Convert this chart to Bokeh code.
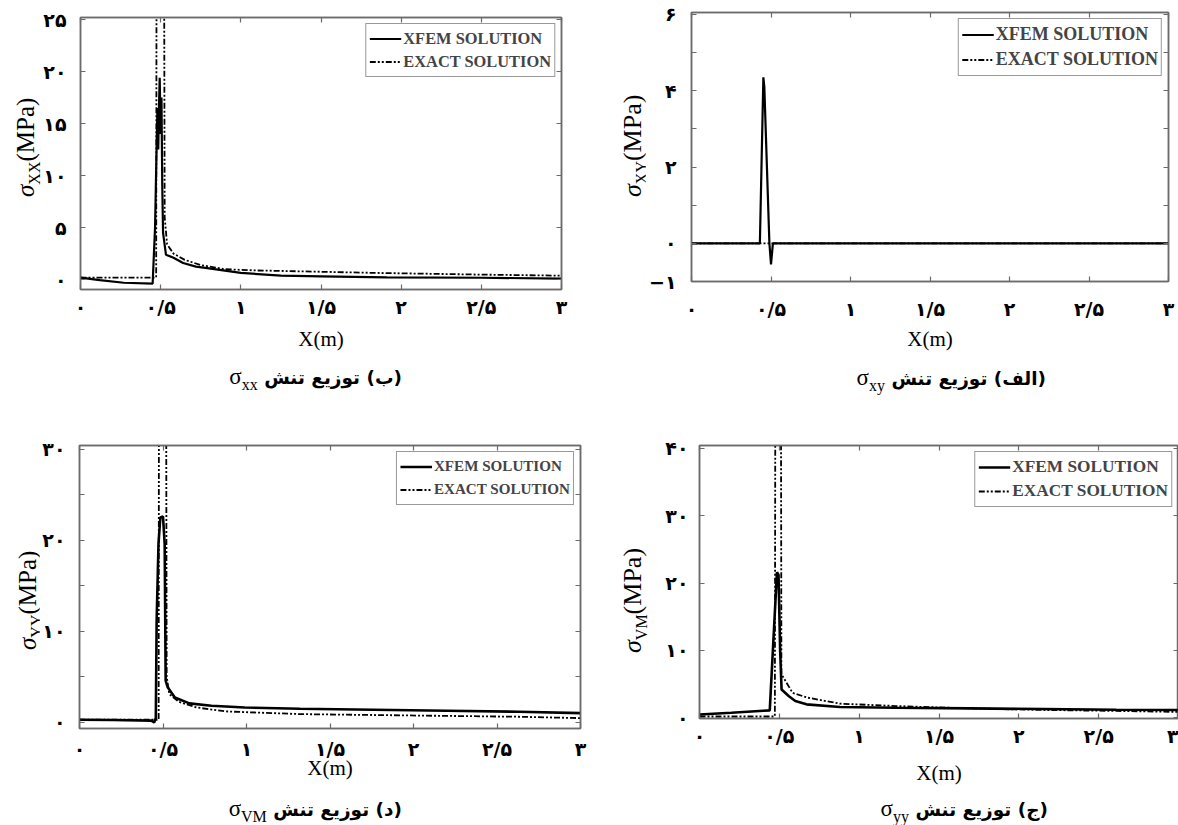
from bokeh.plotting import figure
from bokeh.models import Range1d, LinearAxis, FixedTicker, Legend, LegendItem, Div
from bokeh.layouts import column, row
from bokeh.embed import file_html
from bokeh.resources import INLINE

# ---------------- data ----------------
X_TICKS = [0, 0.5, 1, 1.5, 2, 2.5, 3]
X_TICK_LABELS = ["۰", "۰/۵", "۱", "۱/۵", "۲", "۲/۵", "۳"]
LEGEND_LABELS = ["XFEM SOLUTION", "EXACT SOLUTION"]
X_LABEL = "X(m)"

# top-left : sigma_xx
XX_YTICKS = [0, 5, 10, 15, 20, 25]
XX_YTICK_LABELS = ["۰", "۵", "۱۰", "۱۵", "۲۰", "۲۵"]
XX_XFEM_X = [0.0, 0.12, 0.27, 0.45, 0.465, 0.475, 0.48, 0.485, 0.49, 0.494, 0.5, 0.505, 0.51, 0.515,
             0.533, 0.58, 0.64, 0.72, 0.79, 1.0, 1.25, 1.5, 1.91, 2.5, 3.0]
XX_XFEM_Y = [0.2, -0.05, -0.3, -0.38, 5.0, 13.0, 16.5, 12.5, 17.0, 19.4, 14.0, 17.5, 9.0, 4.5,
             2.4, 2.1, 1.6, 1.25, 1.1, 0.65, 0.38, 0.32, 0.22, 0.18, 0.1]
XX_EXACT_X = [0.0, 0.472, 0.475, 0.52, 0.525, 0.54, 0.58, 0.65, 0.75, 0.9, 1.1, 1.36, 1.82, 2.5, 3.0]
XX_EXACT_Y = [0.2, 0.2, 40.0, 40.0, 6.0, 3.4, 2.5, 1.9, 1.4, 1.0, 0.88, 0.8, 0.65, 0.48, 0.38]

# top-right : sigma_xy
XY_YTICKS = [-1, 0, 1, 2, 3, 4, 5, 6]
XY_YTICK_LABELS = ["−۱", "۰", "", "۲", "", "۴", "", "۶"]
XY_XFEM_X = [0.0, 0.43, 0.452, 0.458, 0.49, 0.5, 0.512, 3.0]
XY_XFEM_Y = [0.0, 0.0, 4.35, 4.1, 0.0, -0.55, 0.0, 0.0]
XY_EXACT_X = [0.0, 3.0]
XY_EXACT_Y = [0.0, 0.0]

# bottom-left : sigma_yy
YY_YTICKS = [0, 5, 10, 15, 20, 25, 30]
YY_YTICK_LABELS = ["۰", "", "۱۰", "", "۲۰", "", "۳۰"]
YY_XFEM_X = [0.0, 0.2, 0.43, 0.447, 0.457, 0.462, 0.473, 0.484, 0.5, 0.51, 0.516, 0.527, 0.571,
             0.658, 0.79, 0.99, 1.32, 1.76, 2.2, 2.63, 3.0]
YY_XFEM_Y = [0.3, 0.28, 0.2, 0.0, 0.5, 11.2, 19.6, 22.5, 22.6, 19.6, 4.6, 3.9, 2.75,
             2.1, 1.84, 1.65, 1.5, 1.4, 1.29, 1.18, 1.03]
YY_EXACT_X = [0.0, 0.474, 0.476, 0.518, 0.522, 0.538, 0.593, 0.70, 0.88, 1.32, 1.98, 2.63, 3.0]
YY_EXACT_Y = [0.3, 0.3, 45.0, 45.0, 5.0, 3.1, 2.28, 1.65, 1.21, 0.92, 0.77, 0.63, 0.48]

# bottom-right : sigma_vm
VM_YTICKS = [0, 10, 20, 30, 40]
VM_YTICK_LABELS = ["۰", "۱۰", "۲۰", "۳۰", "۴۰"]
VM_XFEM_X = [0.0, 0.2, 0.4, 0.44, 0.485, 0.495, 0.505, 0.514, 0.56, 0.60, 0.67, 0.88, 1.23, 1.69,
             2.15, 2.61, 3.0]
VM_XFEM_Y = [0.5, 0.75, 1.05, 1.1, 21.6, 21.2, 10.0, 4.2, 3.2, 2.5, 2.0, 1.6, 1.5, 1.4,
             1.3, 1.2, 1.17]
VM_EXACT_X = [0.0, 0.472, 0.475, 0.51, 0.513, 0.535, 0.583, 0.675, 0.88, 1.23, 1.69, 2.15, 2.61, 3.0]
VM_EXACT_Y = [0.2, 0.2, 50.0, 50.0, 6.5, 5.6, 3.7, 3.0, 2.1, 1.75, 1.4, 1.17, 1.02, 0.88]

# ---------------- layout / style ----------------
PANELS = [
    dict(x0=0, y0=0, ylw=40, fw=578, fh=353, caph=55, frame=(77, 17, 561, 290),
         xr=(0, 3), yr=(-0.95, 25.2), yt=XX_YTICKS, ytl=XX_YTICK_LABELS,
         xf=(XX_XFEM_X, XX_XFEM_Y), ex=(XX_EXACT_X, XX_EXACT_Y),
         leg_fs=16.4, leg_row=23, xl_so=6, xal_so=6, yl_so=14, xfem_w=2.2,
         ylab=dict(cx=26, bottom=197, sub="XX", fs=25),
         cap=dict(right=402, cy=377, sub="xx", text="(ب) توزیع تنش")),
    dict(x0=618, y0=0, ylw=27, fw=533, fh=353, caph=55, frame=(686, 12, 1168, 283),
         xr=(0, 3), yr=(-1, 6.05), yt=XY_YTICKS, ytl=XY_YTICK_LABELS,
         xf=(XY_XFEM_X, XY_XFEM_Y), ex=(XY_EXACT_X, XY_EXACT_Y),
         leg_fs=18, leg_row=25, xl_so=16, xal_so=4, yl_so=15, xfem_w=2.2,
         ylab=dict(cx=633, bottom=197, sub="XY", fs=26),
         cap=dict(right=1046, cy=378, sub="xy", text="(الف) توزیع تنش")),
    dict(x0=0, y0=408, ylw=39, fw=579, fh=379, caph=38, frame=(74, 445, 580, 728),
         xr=(0, 3), yr=(-0.66, 30.4), yt=YY_YTICKS, ytl=YY_YTICK_LABELS,
         xf=(YY_XFEM_X, YY_XFEM_Y), ex=(YY_EXACT_X, YY_EXACT_Y),
         leg_fs=15.1, leg_row=23, xl_so=9, xal_so=-7, yl_so=14, xfem_w=2.6,
         ylab=dict(cx=28, bottom=650, sub="YY", fs=25),
         cap=dict(right=402, cy=809, sub="VM", text="(د) توزیع تنش")),
    dict(x0=618, y0=408, ylw=30, fw=530, fh=379, caph=38, frame=(699, 445, 1178, 723),
         xr=(0, 3), yr=(-0.1, 40.4), yt=VM_YTICKS, ytl=VM_YTICK_LABELS,
         xf=(VM_XFEM_X, VM_XFEM_Y), ex=(VM_EXACT_X, VM_EXACT_Y),
         leg_fs=17.3, leg_row=24, xl_so=6, xal_so=11, yl_so=11, xfem_w=2.6,
         ylab=dict(cx=633, bottom=653, sub="VM", fs=26),
         cap=dict(right=1048, cy=809, sub="yy", text="(ج) توزیع تنش")),
]

AX_COLOR = "#6b6b6b"
TICK_FONT = "DejaVu Sans"
SERIF = "Liberation Serif"


def style_axis(ax, show_labels, standoff=0):
    ax.axis_line_color = AX_COLOR
    ax.axis_line_width = 1.5
    ax.major_tick_line_color = AX_COLOR
    ax.major_tick_line_width = 1.2
    ax.major_tick_in = 5
    ax.major_tick_out = 0
    ax.minor_tick_line_color = None
    if show_labels:
        ax.major_label_text_font = TICK_FONT
        ax.major_label_text_font_style = "bold"
        ax.major_label_text_font_size = "19px"
        ax.major_label_text_color = "black"
        ax.major_label_standoff = standoff
    else:
        ax.major_label_text_font_size = "1px"
        ax.major_label_text_color = None
        ax.major_label_standoff = 0


def make_panel(c):
    X0, Y0 = c["x0"], c["y0"]
    fx0 = X0 + c["ylw"]
    L, T, R, B = c["frame"]
    x0, x1 = c["xr"]
    y0, y1 = c["yr"]
    W, H = c["fw"], c["fh"]

    p = figure(width=W, height=H, x_range=Range1d(x0, x1), y_range=Range1d(y0, y1),
               output_backend="svg", toolbar_location=None,
               min_border_left=L - fx0, min_border_right=max(fx0 + W - R, 0),
               min_border_top=T - Y0, min_border_bottom=Y0 + H - B)
    p.xgrid.visible = False
    p.ygrid.visible = False
    p.outline_line_color = AX_COLOR
    p.outline_line_width = 1.5
    p.background_fill_color = "white"
    p.border_fill_color = "white"

    xa = p.xaxis[0]
    xa.ticker = FixedTicker(ticks=X_TICKS)
    xa.major_label_overrides = {t: s for t, s in zip(X_TICKS, X_TICK_LABELS)}
    style_axis(xa, True, c["xl_so"])
    xa.axis_label = X_LABEL
    xa.axis_label_text_font = SERIF
    xa.axis_label_text_font_style = "normal"
    xa.axis_label_text_font_size = "21px"
    xa.axis_label_text_color = "black"
    xa.axis_label_standoff = c["xal_so"]

    ya = p.yaxis[0]
    ya.ticker = FixedTicker(ticks=c["yt"])
    ya.major_label_overrides = {t: s for t, s in zip(c["yt"], c["ytl"])}
    style_axis(ya, True, c["yl_so"])

    ar = LinearAxis(ticker=FixedTicker(ticks=c["yt"]))
    style_axis(ar, False)
    p.add_layout(ar, "right")
    aa = LinearAxis(ticker=FixedTicker(ticks=X_TICKS))
    style_axis(aa, False)
    p.add_layout(aa, "above")

    xfx, xfy = c["xf"]
    exx, exy = c["ex"]
    r1 = p.line(xfx, xfy, line_color="black", line_width=c["xfem_w"])
    r2 = p.line(exx, exy, line_color="black", line_width=1.8, line_dash="6 2 2 2 2 2")

    leg = Legend(items=[LegendItem(label=LEGEND_LABELS[0], renderers=[r1]),
                        LegendItem(label=LEGEND_LABELS[1], renderers=[r2])])
    leg.location = "top_right"
    leg.margin = 6
    leg.padding = 3
    leg.spacing = 0
    leg.label_standoff = 2
    leg.glyph_width = 32
    leg.glyph_height = c["leg_row"]
    leg.label_height = c["leg_row"]
    leg.label_text_font = SERIF
    leg.label_text_font_style = "bold"
    leg.label_text_font_size = f"{c['leg_fs']}px"
    leg.border_line_color = "#333333"
    leg.border_line_width = 1.5
    leg.background_fill_alpha = 1.0
    p.add_layout(leg)

    # rotated y-axis title (sigma with subscript)
    yl = c["ylab"]
    lh = 30
    left = yl["cx"] - X0 - lh / 2
    top = yl["bottom"] - Y0
    yl_html = (
        f'<div style="position:relative;width:{c["ylw"]}px;height:{H}px;">'
        f'<div style="position:absolute;left:{left}px;top:{top}px;transform:rotate(-90deg);'
        f'transform-origin:0 0;white-space:nowrap;font-family:\'{SERIF}\';font-size:{yl["fs"]}px;'
        f'line-height:{lh}px;color:black;">'
        f'<i>σ</i><sub style="font-size:16px;">{yl["sub"]}</sub>(MPa)</div></div>'
    )
    ydiv = Div(text=yl_html, width=c["ylw"], height=H, margin=(0, 0, 0, 0),
               styles={"overflow": "visible"})

    cp = c["cap"]
    pw = c["ylw"] + W
    cap_top = Y0 + H
    lh2 = 26
    cap_html = (
        f'<div style="position:relative;width:{pw}px;height:{c["caph"]}px;">'
        f'<div dir="rtl" style="position:absolute;right:{X0 + pw - cp["right"]}px;'
        f'top:{cp["cy"] - cap_top - lh2 / 2}px;white-space:nowrap;font-family:\'DejaVu Sans\';'
        f'font-weight:bold;font-size:18.5px;line-height:{lh2}px;color:black;">'
        f'{cp["text"]} <span style="font-family:\'{SERIF}\';font-weight:normal;font-size:23px;">'
        f'σ<sub style="font-size:16px;">{cp["sub"]}</sub></span></div></div>'
    )
    cdiv = Div(text=cap_html, width=pw, height=c["caph"], margin=(0, 0, 0, 0),
               styles={"overflow": "visible"})

    return column(row(ydiv, p, spacing=0), cdiv, spacing=0)


panels = [make_panel(c) for c in PANELS]
layout = column(row(panels[0], panels[1], spacing=0), row(panels[2], panels[3], spacing=0), spacing=0)

open("out.html", "w").write(file_html(layout, INLINE))
